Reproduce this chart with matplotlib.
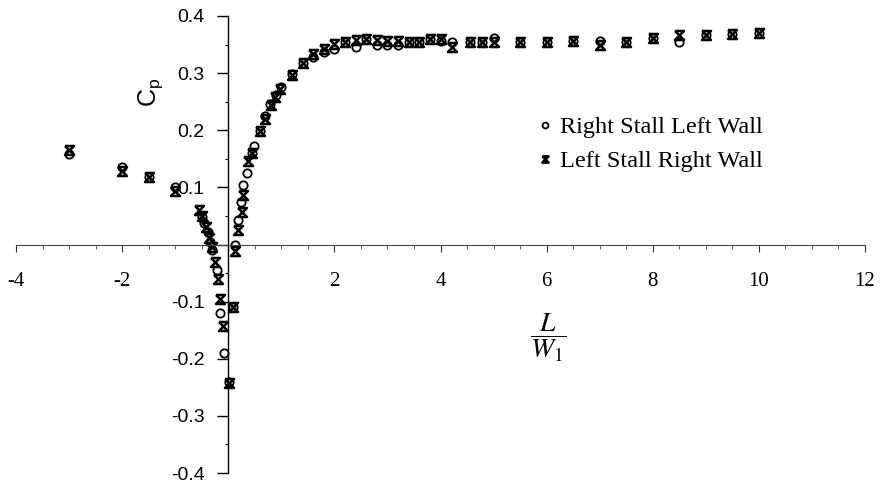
import matplotlib
matplotlib.use("Agg")
import matplotlib.pyplot as plt
from matplotlib.path import Path
from matplotlib.ticker import MultipleLocator, FuncFormatter

# Right Stall Left Wall (circles)
x_circ = [-3.0, -2.0, -1.5, -1.0, -0.5, -0.45, -0.38, -0.35, -0.3, -0.22, -0.15, -0.08, 0.02,
          0.09, 0.12, 0.19, 0.24, 0.28, 0.35, 0.44, 0.49, 0.6, 0.69, 0.79, 0.9, 1.0, 1.2, 1.4,
          1.6, 1.8, 2.0, 2.2, 2.4, 2.6, 2.8, 3.0, 3.2, 3.4, 3.6, 3.8, 4.0, 4.22, 4.55, 4.79,
          5.0, 5.5, 6.0, 6.5, 7.0, 7.5, 8.0, 8.5, 9.0, 9.5, 10.0]
y_circ = [0.158, 0.135, 0.118, 0.100, 0.048, 0.038, 0.022, 0.005, -0.010, -0.045, -0.120, -0.190, -0.240,
          -0.110, 0.000, 0.043, 0.075, 0.105, 0.125, 0.160, 0.172, 0.198, 0.225, 0.246, 0.262, 0.275,
          0.298, 0.318, 0.328, 0.337, 0.343, 0.355, 0.346, 0.360, 0.349, 0.349, 0.349, 0.355, 0.355,
          0.360, 0.357, 0.355, 0.355, 0.355, 0.361, 0.355, 0.355, 0.357, 0.357, 0.355, 0.361, 0.355,
          0.367, 0.368, 0.370]

# Left Stall Right Wall (crosses)
x_cross = [-3.0, -2.0, -1.5, -1.0, -0.55, -0.5, -0.42, -0.37, -0.3, -0.25, -0.2, -0.16, -0.09, 0.02,
           0.09, 0.12, 0.19, 0.25, 0.27, 0.38, 0.44, 0.6, 0.69, 0.8, 0.88, 0.98, 1.2, 1.4, 1.6, 1.8,
           2.0, 2.2, 2.4, 2.6, 2.8, 3.0, 3.2, 3.4, 3.6, 3.8, 4.0, 4.22, 4.55, 4.79, 5.0, 5.5, 6.0,
           6.5, 7.0, 7.5, 8.0, 8.5, 9.0, 9.5, 10.0]
y_cross = [0.165, 0.128, 0.118, 0.094, 0.060, 0.050, 0.030, 0.012, -0.005, -0.030, -0.060, -0.096,
           -0.142, -0.242, -0.110, -0.012, 0.025, 0.057, 0.087, 0.146, 0.160, 0.198, 0.219, 0.244,
           0.258, 0.272, 0.296, 0.317, 0.334, 0.343, 0.351, 0.355, 0.358, 0.360, 0.358, 0.357, 0.357,
           0.355, 0.355, 0.360, 0.360, 0.346, 0.355, 0.355, 0.355, 0.355, 0.355, 0.357, 0.349, 0.355,
           0.361, 0.367, 0.367, 0.368, 0.370]

labels = ["Right Stall Left Wall", "Left Stall Right Wall"]

plt.rcParams['mathtext.fontset'] = 'stix'

fig = plt.figure(figsize=(8.8, 4.82), dpi=100)
ax = fig.add_axes([16/880, 9/482, (865-16)/880, (473-16)/482])

hourglass = Path([(-1, 1), (1, 1), (-1, -1), (1, -1), (-1, 1)],
                 [Path.MOVETO, Path.LINETO, Path.LINETO, Path.LINETO, Path.LINETO])

ax.plot(x_circ, y_circ, linestyle='none', marker='o', markersize=6,
        markerfacecolor='none', markeredgecolor='black', markeredgewidth=1.3, label=labels[0])
ax.plot(x_cross, y_cross, linestyle='none', marker=hourglass, markersize=6.5,
        markerfacecolor='none', markeredgecolor='black', markeredgewidth=1.8, label=labels[1])

ax.set_xlim(-4, 12)
ax.set_ylim(-0.4, 0.4)

for s in ['top', 'right']:
    ax.spines[s].set_visible(False)
ax.spines['left'].set_position(('data', 0))
ax.spines['bottom'].set_position(('data', 0))
ax.spines['left'].set_linewidth(1.0)
ax.spines['bottom'].set_linewidth(0.8)
ax.spines['bottom'].set_color('#444444')

ax.xaxis.set_major_locator(MultipleLocator(2))
ax.xaxis.set_minor_locator(MultipleLocator(0.5))
ax.yaxis.set_major_locator(MultipleLocator(0.1))
ax.yaxis.set_minor_locator(MultipleLocator(0.05))

ax.xaxis.set_major_formatter(FuncFormatter(lambda v, p: '' if abs(v) < 1e-9 else f'{v:g}'))
ax.yaxis.set_major_formatter(FuncFormatter(lambda v, p: '' if abs(v) < 1e-9 else f'{v:.1f}'))

ax.tick_params(axis='x', which='major', direction='out', length=5, width=0.8, pad=15,
               labelsize=15, colors='#333333', labelcolor='black')
ax.tick_params(axis='x', which='minor', direction='out', length=3, width=0.6, colors='#444444')
ax.tick_params(axis='y', which='major', direction='out', length=8, width=1.0, pad=9, labelsize=14)
ax.tick_params(axis='y', which='minor', direction='out', length=2, width=0.8)

for t in ax.get_xticklabels():
    t.set_fontfamily('Liberation Serif')
for t in ax.get_yticklabels():
    t.set_fontfamily('Liberation Sans')

fig.text(151/880, 1 - 92/482, r'$\mathregular{C_p}$', rotation=90, ha='center', va='center',
         fontsize=18, family='Liberation Sans')
fig.text(548/880, 1 - 338/482, r'$\dfrac{L}{W_1}$', ha='center', va='center', fontsize=20)

leg = ax.legend(loc='upper left', bbox_to_anchor=(524/880, 1 - 104/482),
                bbox_transform=fig.transFigure, frameon=False, handlelength=0.7,
                handletextpad=0.3, labelspacing=0.5, borderpad=0, markerscale=0.7,
                prop={'family': 'Liberation Serif', 'size': 17.5})

fig.savefig('out.png', dpi=100)
